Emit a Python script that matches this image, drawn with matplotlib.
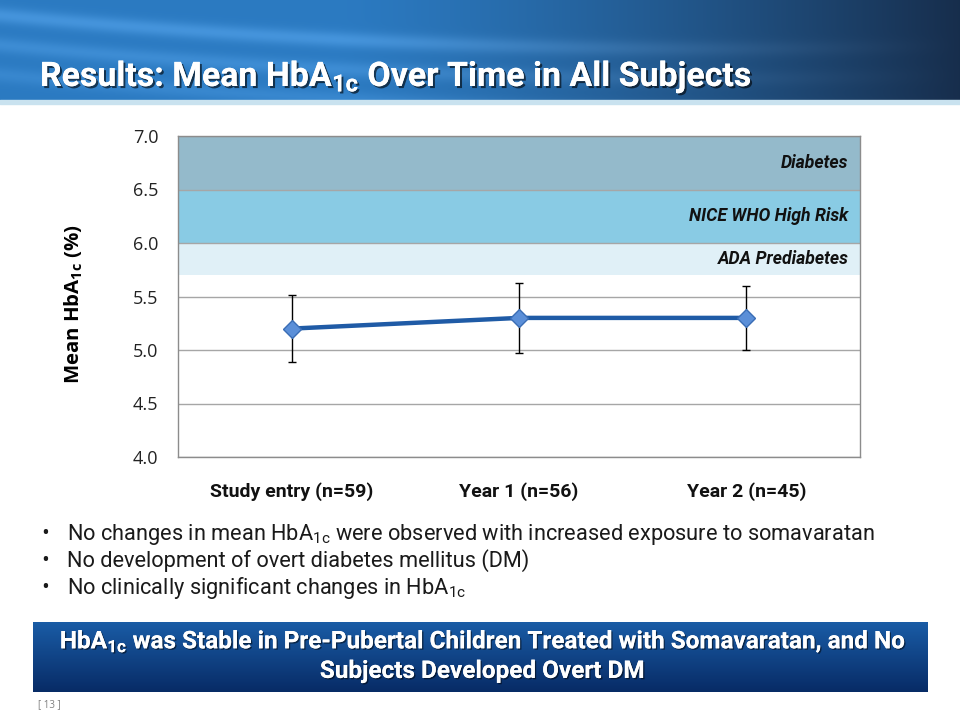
import numpy as np
import matplotlib
matplotlib.use('Agg')
import matplotlib.pyplot as plt
import matplotlib.patheffects as pe

# chart values
categories = ['Study entry (n=59)', 'Year 1 (n=56)', 'Year 2 (n=45)']
mean_hba1c = [5.2, 5.3, 5.3]
err_hba1c = [0.31, 0.33, 0.30]
band_names = ['Diabetes', 'NICE WHO High Risk', 'ADA Prediabetes']
band_low = [6.5, 6.0, 5.7]
band_high = [7.0, 6.5, 6.0]
band_colors = ['#94bacb', '#89cbe4', '#e0f0f7']
y_ticks = [4.0, 4.5, 5.0, 5.5, 6.0, 6.5, 7.0]
bullets = ['No changes in mean HbA$\\mathregular{_{1c}}$ were observed with increased exposure to somavaratan',
           'No development of overt diabetes mellitus (DM)',
           'No clinically significant changes in HbA$\\mathregular{_{1c}}$']
title = 'Results: Mean HbA$\\mathregular{_{1c}}$ Over Time in All Subjects'
box_text = ('HbA$\\mathregular{_{1c}}$ was Stable in Pre-Pubertal Children Treated with Somavaratan, and No\n'
            'Subjects Developed Overt DM')

narrow = ['Roboto', 'DejaVu Sans']
sans = ['Open Sans', 'DejaVu Sans']

fig = plt.figure(figsize=(9.6, 7.2), dpi=100)
fig.patch.set_facecolor('white')

# background layer in pixel coordinates
bg = fig.add_axes([0, 0, 1, 1], zorder=-1)
bg.set_xlim(0, 960)
bg.set_ylim(720, 0)
bg.axis('off')

# header gradient with a few soft light streaks
h, w = 100, 960
xx, yy = np.meshgrid(np.linspace(0, 1, w), np.linspace(0, 1, h))
left = np.array([0.17, 0.48, 0.76])
right = np.array([0.09, 0.18, 0.30])
t = np.clip((xx - 0.35) / 0.65, 0, 1) ** 1.3
img = left[None, None, :] * (1 - t[..., None]) + right[None, None, :] * t[..., None]
for off, amp in [(0.15, 0.10), (0.45, 0.07), (0.75, 0.05)]:
    curve = off + 0.9 * xx - 0.6 * xx ** 2
    streak = np.exp(-((yy - curve) / 0.08) ** 2) * amp * (1 - t)
    img = img + streak[..., None]
img = np.clip(img, 0, 1)
bg.imshow(img, extent=(0, 960, 100, 0), aspect='auto', zorder=0)
bg.fill_between([0, 960], 100, 104, color='#c9e2ef', zorder=1)

bg.text(40, 86, title, color='white', fontsize=24.4, fontweight='bold', family=narrow,
        va='baseline', ha='left', zorder=3,
        path_effects=[pe.withSimplePatchShadow(offset=(1.5, -1.5), shadow_rgbFace='black', alpha=0.6), pe.Normal()])

# bullets
for i, line in enumerate(bullets):
    y = 540 + i * 27
    bg.text(45, y - 1, '\u2022', fontsize=15, family=sans, va='baseline', ha='center', color='#1a1a1a')
    bg.text(67, y, line, fontsize=15.7, family=narrow, va='baseline', color='#1a1a1a')

# bottom message box
bh = 70
col_top = np.array([0.10, 0.36, 0.65])
col_bot = np.array([0.03, 0.17, 0.40])
s = np.linspace(0, 1, bh)[:, None, None]
box = col_top * (1 - s) + col_bot * s
box = np.repeat(box, 2, axis=1)
bg.imshow(box, extent=(33, 928, 692, 622), aspect='auto', zorder=1)
bg.text(482, 656, box_text, color='white', fontsize=17.5, fontweight='bold', family=narrow,
        ha='center', va='center', linespacing=1.3, zorder=3,
        path_effects=[pe.withSimplePatchShadow(offset=(1, -1), shadow_rgbFace='black', alpha=0.5), pe.Normal()])
bg.text(38, 705, '[ 13 ]', fontsize=7, family=sans, color='#808080', va='center')

# chart
ax = fig.add_axes([178 / 960, 1 - 457 / 720, 682 / 960, 321 / 720])
x = np.arange(len(categories))
ax.set_xlim(-0.5, len(categories) - 0.5)
ax.set_ylim(4.0, 7.0)
for name, lo, hi, c in zip(band_names, band_low, band_high, band_colors):
    ax.axhspan(lo, hi, color=c, zorder=1, lw=0)
    ax.text(2.45, (lo + hi) / 2, name, ha='right', va='center', fontsize=12.7,
            fontweight='bold', fontstyle='italic', family=narrow, color='#111111', zorder=3)
ax.set_yticks(y_ticks)
ax.set_yticklabels([f'{v:.1f}' for v in y_ticks], fontsize=13, family=sans, color='#222222')
ax.grid(axis='y', color='#a6a6a6', lw=1, zorder=0)
ax.tick_params(axis='y', length=0, pad=14)
ax.set_xticks(x)
ax.set_xticklabels(categories, fontsize=14, fontweight='bold', family=narrow, color='#111111')
ax.tick_params(axis='x', length=0, pad=18)
for sp in ax.spines.values():
    sp.set_color('#8c8c8c')
    sp.set_linewidth(1)

ax.errorbar(x, mean_hba1c, yerr=err_hba1c, fmt='none', ecolor='black', elinewidth=1,
            capsize=3, capthick=1, zorder=4)
ax.plot(x, mean_hba1c, color='#1f5ba6', lw=3.2, marker='D', markersize=9,
        markerfacecolor='#5b8fd8', markeredgecolor='#3a6db5', markeredgewidth=1, zorder=5)

ax.set_ylabel('Mean HbA$\\mathregular{_{1c}}$ (%)', fontsize=14.7, fontweight='bold', family=sans,
              color='black')
ax.yaxis.set_label_coords(-0.136, 0.477)

fig.savefig('out.png', dpi=100)
